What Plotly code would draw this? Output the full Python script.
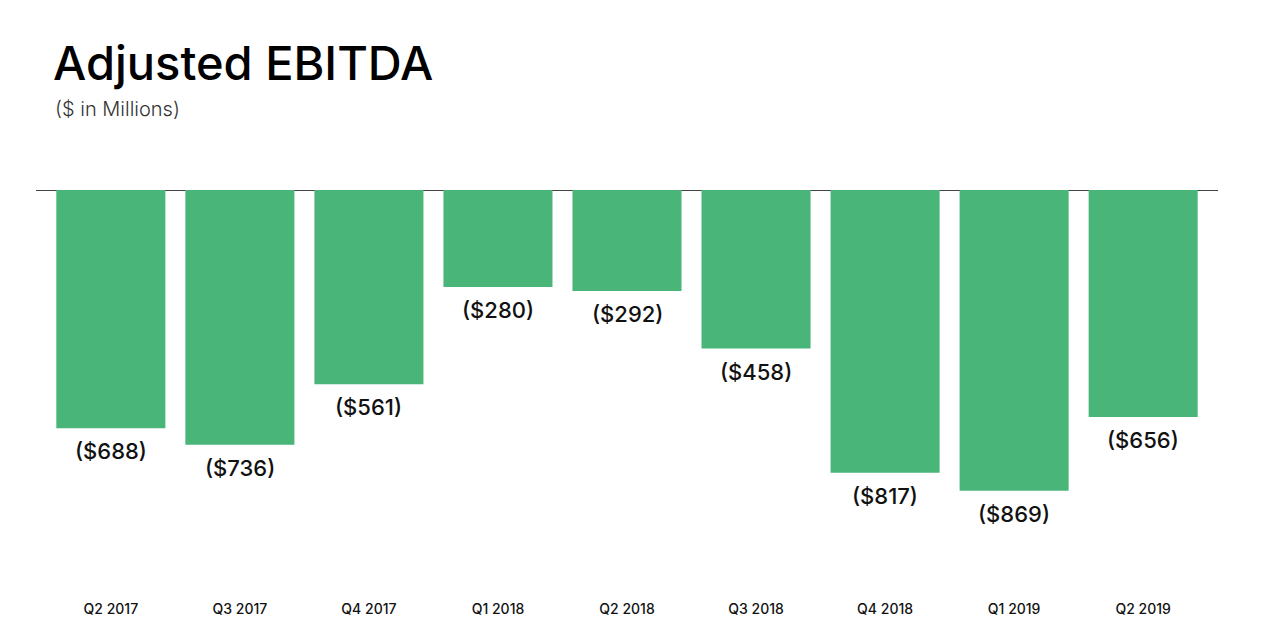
import plotly.graph_objects as go

quarters = ["Q2 2017", "Q3 2017", "Q4 2017", "Q1 2018", "Q2 2018",
            "Q3 2018", "Q4 2018", "Q1 2019", "Q2 2019"]
ebitda = [-688, -736, -561, -280, -292, -458, -817, -869, -656]
labels = ["($688)", "($736)", "($561)", "($280)", "($292)",
          "($458)", "($817)", "($869)", "($656)"]

GREEN = "#49B579"

# the page puts the figure 8px in from the top-left corner
W, H = 1254, 616
L, R, T, B = 28, 44, 182, 28
plot_w = W - L - R
plot_h = H - T - B

fig = go.Figure()
fig.add_trace(go.Bar(x=quarters, y=ebitda, marker_color=GREEN,
                     marker_line_width=0, hoverinfo="x+y"))

# value labels just under each bar
for q, v, t in zip(quarters, ebitda, labels):
    fig.add_annotation(x=q, y=v, text=t, showarrow=False, yanchor="top",
                       yshift=-8,
                       font=dict(family="Inter", size=22, weight=500, color="#111"))

fig.add_annotation(text="($ in Millions)", xref="paper", yref="paper",
                   x=17 / plot_w, y=1 + 81 / plot_h, xanchor="left", yanchor="middle",
                   showarrow=False,
                   font=dict(family="Inter", size=20, weight=300, color="#333"))

fig.update_layout(
    width=W, height=H,
    margin=dict(l=L, r=R, t=T, b=B),
    paper_bgcolor="white", plot_bgcolor="white",
    bargap=0.155,
    showlegend=False,
    title=dict(text="Adjusted EBITDA", x=45 / W, xanchor="left",
               y=1 - 56 / H, yanchor="middle",
               font=dict(family="Inter", size=47, weight=500, color="#000")),
)

fig.update_xaxes(range=[-0.58, 8.58], showgrid=False, showline=False, ticks="",
                 automargin=False, ticklabelstandoff=3,
                 tickfont=dict(family="Inter", size=14, weight=500, color="#111"))
fig.update_yaxes(range=[-1173, 0], showgrid=False, showticklabels=False,
                 automargin=False,
                 zeroline=True, zerolinecolor="#444", zerolinewidth=1)

fig.write_html("out.html")
